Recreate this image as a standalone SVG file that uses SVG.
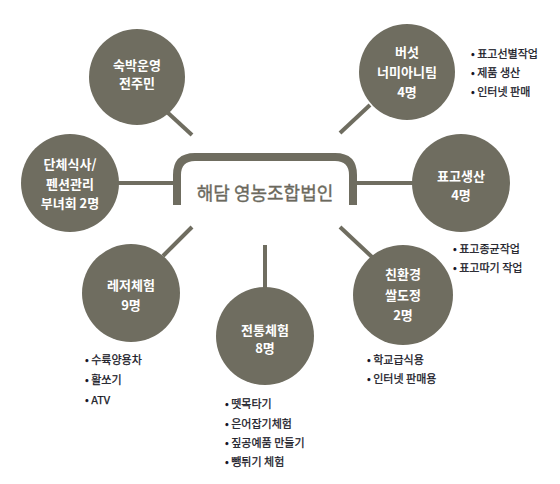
<svg xmlns="http://www.w3.org/2000/svg" width="560" height="484" viewBox="0 0 560 484">
<style>
.c{fill:#6f6d60}
.ct{font-family:"Noto Sans CJK KR","Noto Sans",sans-serif;font-size:13px;font-weight:bold;fill:#ffffff;text-anchor:middle}
.b{font-family:"Noto Sans CJK KR","Noto Sans",sans-serif;font-size:11px;fill:#14141e;stroke:#14141e;stroke-width:0.25}
.ln{stroke:#6f6d60;stroke-width:4;fill:none}
.box{stroke:#6f6d60;stroke-width:8;fill:none}
.mt{font-family:"Noto Sans CJK KR","Noto Sans",sans-serif;font-size:18px;fill:#6b695d;stroke:#6b695d;stroke-width:0.35;text-anchor:middle}
</style>
<rect width="560" height="484" fill="#ffffff"/>
<g id="connectors">
<line class="ln" x1="167" y1="112" x2="192" y2="135"/>
<line class="ln" x1="118" y1="183" x2="177" y2="183"/>
<line class="ln" x1="370" y1="105" x2="340" y2="133"/>
<line class="ln" x1="353" y1="183" x2="413" y2="183"/>
<line class="ln" x1="192" y1="227" x2="163" y2="256"/>
<line class="ln" x1="265" y1="245" x2="265" y2="288"/>
<line class="ln" x1="340" y1="227" x2="372" y2="257"/>
</g>
<g id="center">
<path class="box" d="M177 205 V175 Q177 157 195 157 H335 Q353 157 353 175 V205"/>
<text class="mt" x="265" y="200">해담 영농조합법인</text>
</g>
<g id="n1">
<circle class="c" cx="137" cy="77" r="48"/>
<text class="ct" x="137" y="70">숙박운영</text>
<text class="ct" x="137" y="88">전주민</text>
</g>
<g id="n2">
<circle class="c" cx="70" cy="183" r="49"/>
<text class="ct" x="70" y="169">단체식사/</text>
<text class="ct" x="70" y="189">펜션관리</text>
<text class="ct" x="70" y="208">부녀회 2명</text>
</g>
<g id="n3">
<circle class="c" cx="407" cy="72" r="48"/>
<text class="ct" x="407" y="57">버섯</text>
<text class="ct" x="407" y="77">너미아니팀</text>
<text class="ct" x="407" y="97">4명</text>
<text class="b" x="471" y="58">• 표고선별작업</text>
<text class="b" x="471" y="77">• 제품 생산</text>
<text class="b" x="471" y="96">• 인터넷 판매</text>
</g>
<g id="n4">
<circle class="c" cx="461" cy="183" r="49"/>
<text class="ct" x="461" y="181">표고생산</text>
<text class="ct" x="461" y="200">4명</text>
<text class="b" x="453" y="253">• 표고종균작업</text>
<text class="b" x="453" y="272">• 표고따기 작업</text>
</g>
<g id="n5">
<circle class="c" cx="131" cy="293" r="49"/>
<text class="ct" x="131" y="290">레저체험</text>
<text class="ct" x="131" y="310">9명</text>
<text class="b" x="85" y="364">• 수륙양용차</text>
<text class="b" x="85" y="384">• 활쏘기</text>
<text class="b" x="85" y="404">• ATV</text>
</g>
<g id="n6">
<circle class="c" cx="265" cy="336" r="49"/>
<text class="ct" x="265" y="335">전통체험</text>
<text class="ct" x="265" y="353">8명</text>
<text class="b" x="225" y="408">• 뗏목타기</text>
<text class="b" x="225" y="428">• 은어잡기체험</text>
<text class="b" x="225" y="447">• 짚공예품 만들기</text>
<text class="b" x="225" y="466">• 뺑튀기 체험</text>
</g>
<g id="n7">
<circle class="c" cx="403" cy="295" r="50"/>
<text class="ct" x="403" y="279">친환경</text>
<text class="ct" x="403" y="300">쌀도정</text>
<text class="ct" x="403" y="320">2명</text>
<text class="b" x="367" y="364">• 학교급식용</text>
<text class="b" x="367" y="383">• 인터넷 판매용</text>
</g>
</svg>
